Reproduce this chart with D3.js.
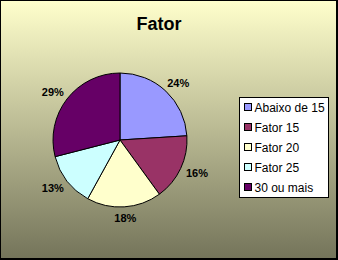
<!DOCTYPE html>
<html>
<head>
<meta charset="utf-8">
<script src="https://cdn.jsdelivr.net/npm/d3@7"></script>
<style>
  body { margin: 0; padding: 0; }
  svg { display: block; font-family: Arial, "Liberation Sans", sans-serif; }
</style>
</head>
<body>
<svg id="chart" width="338" height="260"></svg>
<script>
// chart data
var categories = [ 'Abaixo de 15', 'Fator 15', 'Fator 20', 'Fator 25', '30 ou mais' ];
var values = [ 24, 16, 18, 13, 29 ];
var colors = [ '#9999ff', '#993366', '#ffffcc', '#ccffff', '#660066' ];

var svg = d3.select( '#chart' );
var width = 338, height = 260;

var defs = svg.append( 'defs' );
var grad = defs.append( 'linearGradient' )
    .attr( 'id', 'bg' )
    .attr( 'x1', 0 ).attr( 'y1', 0 )
    .attr( 'x2', 0 ).attr( 'y2', 1 );
grad.append( 'stop' ).attr( 'offset', '0%' ).attr( 'stop-color', '#ffffcc' );
grad.append( 'stop' ).attr( 'offset', '100%' ).attr( 'stop-color', '#74745a' );

svg.append( 'rect' )
    .attr( 'x', 0.5 ).attr( 'y', 0.5 )
    .attr( 'width', width - 1.5 ).attr( 'height', height - 1.5 )
    .attr( 'fill', 'url(#bg)' )
    .attr( 'stroke', '#000' )
    .attr( 'stroke-width', 1 );
svg.append( 'rect' )
    .attr( 'x', width - 2 ).attr( 'y', 0 )
    .attr( 'width', 2 ).attr( 'height', height )
    .attr( 'fill', '#000' );
svg.append( 'rect' )
    .attr( 'x', 0 ).attr( 'y', height - 2 )
    .attr( 'width', width ).attr( 'height', 2 )
    .attr( 'fill', '#000' );

svg.append( 'text' )
    .attr( 'x', 159 ).attr( 'y', 30 )
    .attr( 'text-anchor', 'middle' )
    .style( 'font-size', '18px' )
    .style( 'font-weight', 'bold' )
    .text( 'Fator' );

var cx = 120, cy = 140, r = 67;
var pie = d3.pie().sort( null ).value( function( d ) { return d; } );
var arcs = pie( values );
var arc = d3.arc().innerRadius( 0 ).outerRadius( r );
var total = d3.sum( values );

var g = svg.append( 'g' ).attr( 'transform', 'translate(' + cx + ',' + cy + ')' );

g.selectAll( 'path' )
    .data( arcs )
  .enter().append( 'path' )
    .attr( 'd', arc )
    .attr( 'fill', function( d, i ) { return colors[ i ]; } )
    .attr( 'stroke', '#000' )
    .attr( 'stroke-width', 1 );

// labels sit just outside the edge, pushed out by half their box
g.selectAll( 'text.lbl' )
    .data( arcs )
  .enter().append( 'text' )
    .attr( 'class', 'lbl' )
    .attr( 'transform', function( d ) {
        var a = ( d.startAngle + d.endAngle ) / 2;
        var s = Math.sin( a ), c = Math.cos( a );
        var x = s * ( r + 7 ) + s * 11;
        var y = -c * ( r + 7 ) - c * 4;
        return 'translate(' + x + ',' + ( y + 4 ) + ')';
    })
    .attr( 'text-anchor', 'middle' )
    .style( 'font-size', '11px' )
    .style( 'font-weight', 'bold' )
    .text( function( d ) { return Math.round( d.value / total * 100 ) + '%'; } );

// legend
var legend = svg.append( 'g' ).attr( 'transform', 'translate(239.5,97.5)' );
legend.append( 'rect' )
    .attr( 'width', 89 ).attr( 'height', 100 )
    .attr( 'fill', '#fff' )
    .attr( 'stroke', '#000' );

var items = legend.selectAll( 'g.item' )
    .data( categories )
  .enter().append( 'g' )
    .attr( 'class', 'item' )
    .attr( 'transform', function( d, i ) { return 'translate(0,' + ( 10 + i * 20 ) + ')'; } );

items.append( 'rect' )
    .attr( 'x', 5 ).attr( 'y', -4 )
    .attr( 'width', 7 ).attr( 'height', 7 )
    .attr( 'fill', function( d, i ) { return colors[ i ]; } )
    .attr( 'stroke', '#000' );

items.append( 'text' )
    .attr( 'x', 15 ).attr( 'y', 4 )
    .style( 'font-size', '12px' )
    .text( function( d ) { return d; } );
</script>
</body>
</html>
